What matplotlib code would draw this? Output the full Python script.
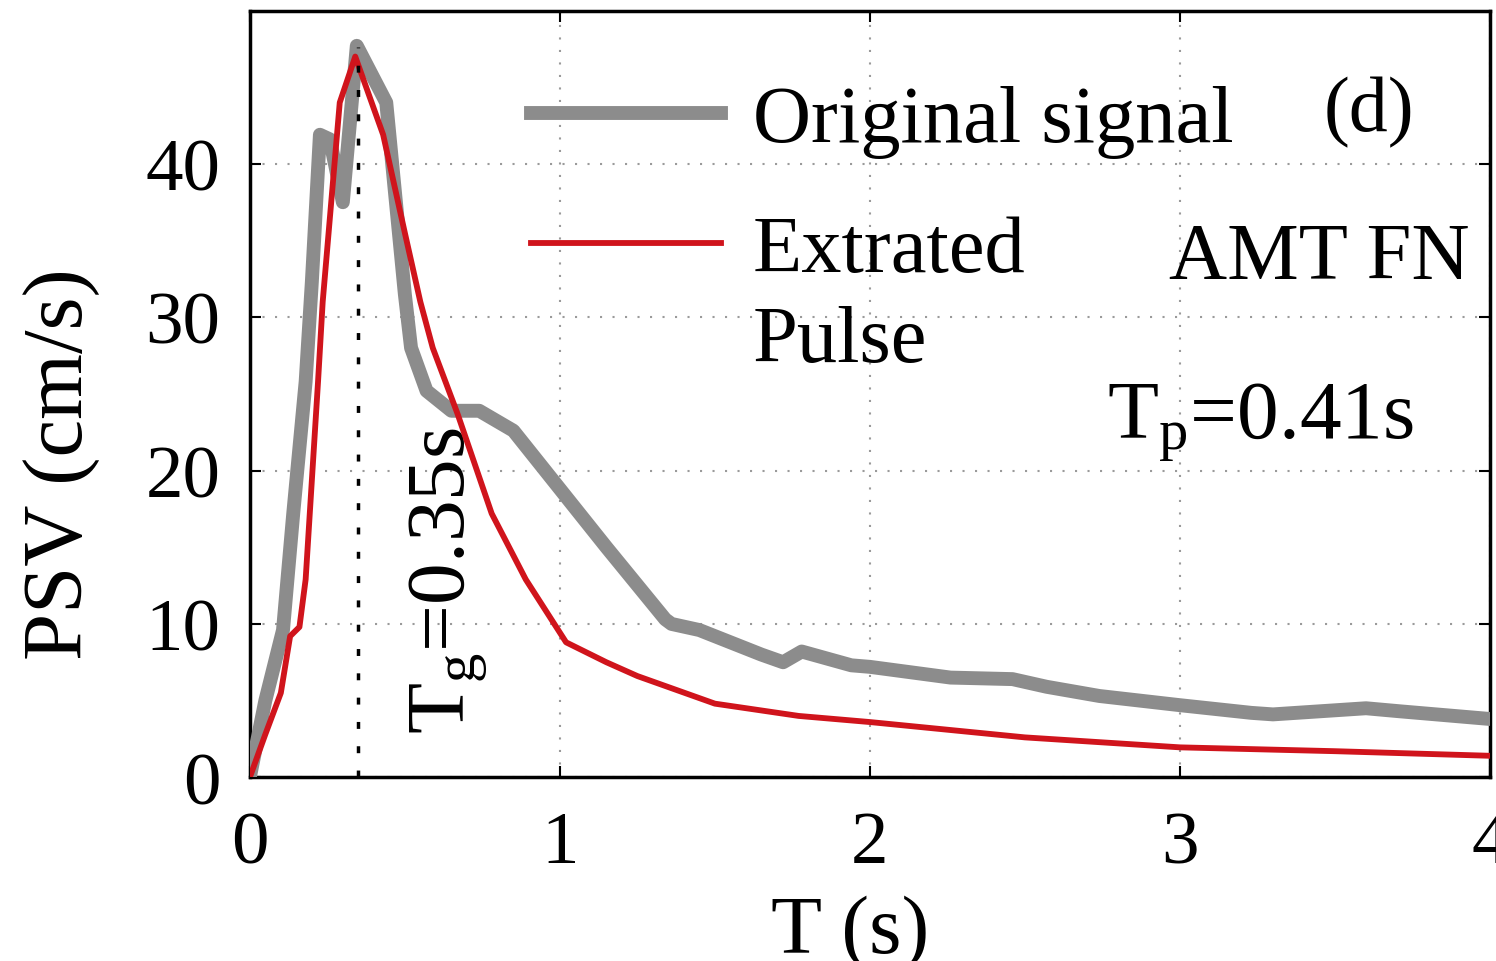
import matplotlib
matplotlib.use("Agg")
import matplotlib.pyplot as plt
from matplotlib.lines import Line2D

plt.rcParams["font.family"] = ["Liberation Serif", "DejaVu Serif"]
plt.rcParams["mathtext.fontset"] = "custom"
plt.rcParams["mathtext.rm"] = "Liberation Serif"
plt.rcParams["mathtext.it"] = "Liberation Serif:italic"

# original signal spectrum
orig_t = [0.0, 0.05, 0.107, 0.14, 0.18, 0.20, 0.226, 0.258, 0.30, 0.345, 0.44, 0.50,
          0.52, 0.57, 0.65, 0.74, 0.85, 1.0, 1.15, 1.34, 1.36, 1.45, 1.65, 1.72, 1.78,
          1.94, 2.0, 2.26, 2.46, 2.57, 2.74, 3.0, 3.23, 3.3, 3.6, 3.71, 4.0]
orig_psv = [0.0, 5.0, 9.6, 17.2, 25.8, 32.3, 41.9, 41.6, 37.5, 47.7, 44.0, 31.5,
            28.0, 25.2, 23.9, 23.9, 22.6, 18.8, 15.0, 10.3, 10.0, 9.6, 8.0, 7.5, 8.2,
            7.3, 7.2, 6.5, 6.4, 5.9, 5.3, 4.7, 4.2, 4.1, 4.5, 4.3, 3.8]

# extracted pulse spectrum
pulse_t = [0.0, 0.05, 0.10, 0.13, 0.16, 0.18, 0.22, 0.235, 0.29, 0.34, 0.43, 0.50,
           0.55, 0.59, 0.67, 0.78, 0.89, 1.02, 1.15, 1.25, 1.5, 1.77, 2.0, 2.5,
           3.0, 3.5, 4.0]
pulse_psv = [0.0, 2.8, 5.5, 9.2, 9.8, 12.9, 25.8, 31.0, 44.0, 47.0, 41.9, 35.5,
             31.0, 28.0, 23.7, 17.2, 12.9, 8.8, 7.5, 6.6, 4.8, 4.0, 3.6, 2.6,
             1.95, 1.7, 1.4]

Tg = 0.35
Tg_peak = 47.6

fig = plt.figure(figsize=(14.96, 9.62), dpi=100)
ax = fig.add_axes([0.167, 0.191, 0.829, 0.797])

ax.plot(orig_t, orig_psv, color="#8c8c8c", lw=10, solid_joinstyle="round",
        solid_capstyle="round", zorder=3)
ax.plot(pulse_t, pulse_psv, color="#d0141c", lw=4.2, solid_joinstyle="round", zorder=4)
ax.plot([Tg, Tg], [0, Tg_peak], color="black", ls=(0, (2, 5)), lw=2.5, zorder=5)

ax.set_xlim(0, 4)
ax.set_ylim(0, 50)
ax.set_xticks([0, 1, 2, 3, 4])
ax.set_yticks([0, 10, 20, 30, 40])
ax.grid(True, ls=(0, (1, 5)), color="#9a9a9a", lw=1.5)
ax.tick_params(direction="in", length=8, width=1.5, labelsize=54, top=True, right=True)
ax.tick_params(axis="x", pad=24)
ax.tick_params(axis="y", pad=21)
for s in ax.spines.values():
    s.set_linewidth(2.5)

ax.set_xlabel("T (s)", fontsize=60)
ax.xaxis.set_label_coords(0.484, -0.153)
ax.set_ylabel("PSV (cm/s)", fontsize=61)
ax.yaxis.set_label_coords(-0.121, 0.41)

ax.text(0.64, 12.9, r"T$_\mathrm{g}$=0.35s", rotation=90, fontsize=60,
        ha="center", va="center")
ax.text(3.61, 43.4, "(d)", fontsize=56, ha="center", va="center")
ax.text(3.45, 33.8, "AMT FN", fontsize=58, ha="center", va="center")
ax.text(3.26, 23.2, r"T$_\mathrm{p}$=0.41s", fontsize=60, ha="center", va="center")

leg_style = dict(loc="upper left", frameon=False, fontsize=58, handlelength=2.35,
                 handletextpad=0.4, labelspacing=0.2, borderaxespad=0.3)
leg1 = ax.legend([Line2D([], [], color="#8c8c8c", lw=10)], ["Original signal"],
                 bbox_to_anchor=(0.1815, 0.9765), **leg_style)
ax.add_artist(leg1)
ax.legend([Line2D([], [], color="#d0141c", lw=4.2), Line2D([], [], color="none")],
          ["Extrated", "Pulse"], bbox_to_anchor=(0.1815, 0.807), **leg_style)

fig.savefig("out.png", dpi=100)
